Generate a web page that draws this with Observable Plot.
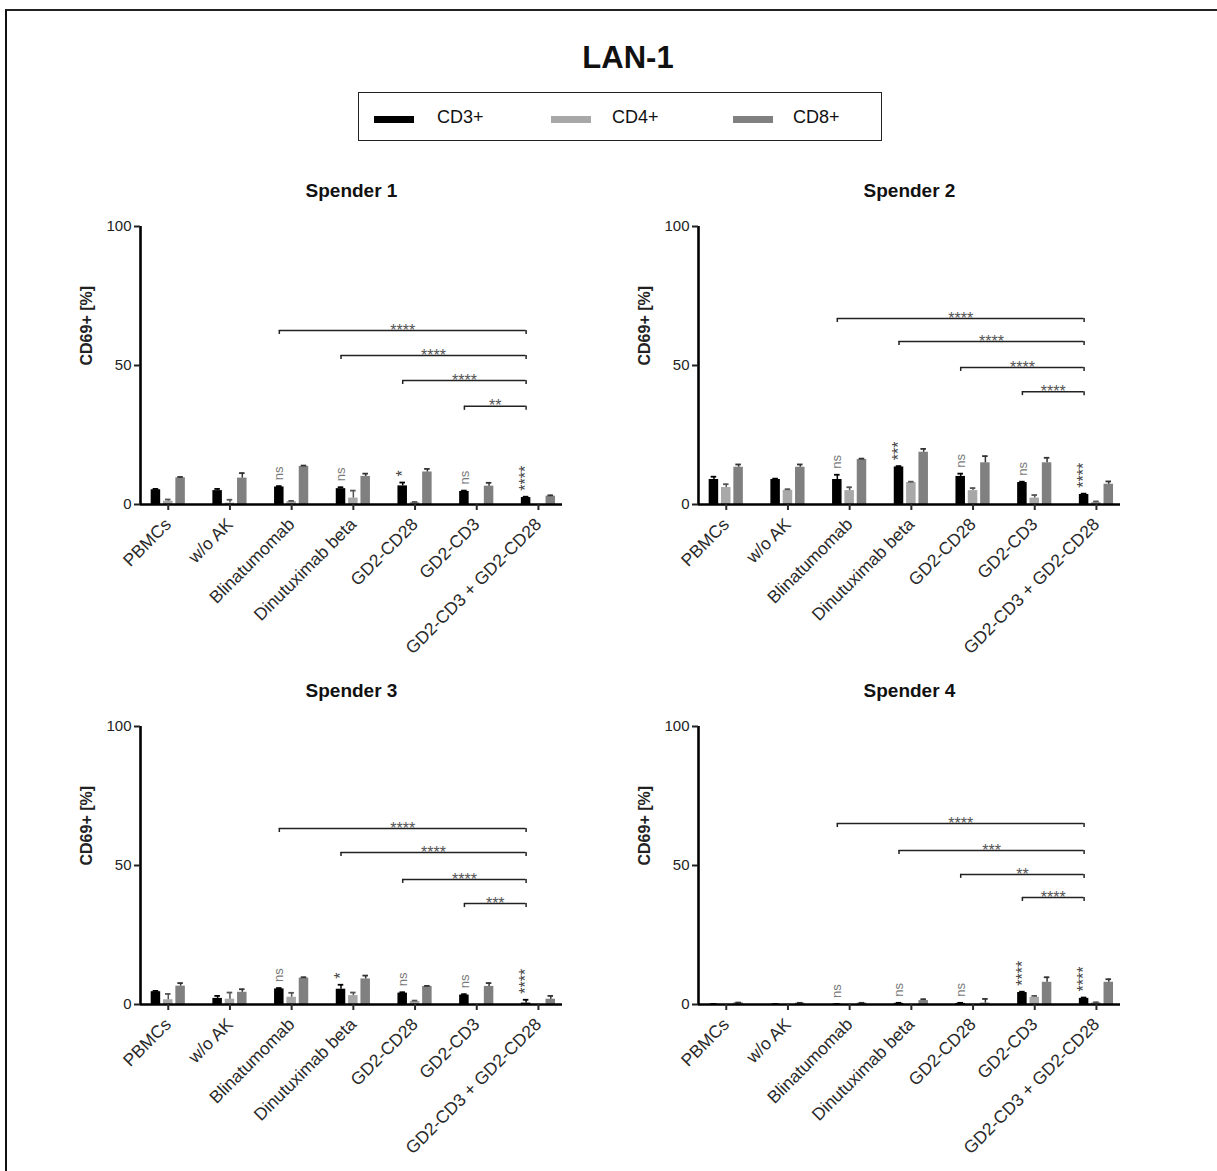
<!DOCTYPE html>
<html>
<head>
<meta charset="utf-8">
<script src="https://cdn.jsdelivr.net/npm/d3@7"></script>
<script src="https://cdn.jsdelivr.net/npm/@observablehq/plot@0.6"></script>
<style>
  body { margin: 0; background: #fff; }
  #page { position: relative; width: 1217px; height: 1171px; overflow: hidden; background: #fff;
          font-family: "Liberation Sans", Arial, sans-serif; color: #111; }
  #frame { position: absolute; left: 5px; top: 9px; right: -10px; bottom: -10px;
           border-left: 2px solid #111; border-top: 2px solid #222; }
  #title { position: absolute; left: 0; width: 1256px; top: 40px; text-align: center;
           font-size: 31px; font-weight: bold; }
  #legend { position: absolute; left: 358px; top: 92px; width: 522px; height: 47px;
            border: 1.5px solid #222; }
  .sw { position: absolute; top: 23px; height: 7px; width: 40px; }
  .lt { position: absolute; top: 13px; font-size: 18px; line-height: 22px; }
  .panel { position: absolute; }
</style>
</head>
<body>
<div id="page">
  <div id="frame"></div>
  <div id="title">LAN-1</div>
  <div id="legend"></div>
</div>
<script>
// Treatment groups along the x axis
const categories = ["PBMCs", "w/o AK", "Blinatumomab", "Dinutuximab beta", "GD2-CD28", "GD2-CD3", "GD2-CD3 + GD2-CD28"];
const series = ["CD3+", "CD4+", "CD8+"];
const yTicks = [0, 50, 100];

// CD69+ [%] means and SD, per donor and T-cell subset
const spender1CD3 = [5.3, 5.0, 6.3, 5.7, 6.7, 4.7, 2.5];
const spender1CD3Err = [0.3, 0.6, 0.3, 0.5, 1.2, 0.3, 0.3];
const spender1CD4 = [1.2, 0.5, 1.0, 2.3, 0.7, 0.0, 0.0];
const spender1CD4Err = [0.6, 1.2, 0.3, 2.7, 0.2, 0.0, 0.0];
const spender1CD8 = [9.6, 9.5, 13.7, 10.1, 11.7, 6.6, 3.0];
const spender1CD8Err = [0.3, 1.8, 0.3, 1.0, 1.1, 1.2, 0.3];

const spender2CD3 = [9.0, 9.0, 9.0, 13.5, 10.1, 7.9, 3.6];
const spender2CD3Err = [1.0, 0.3, 1.7, 0.3, 1.0, 0.3, 0.3];
const spender2CD4 = [6.1, 5.1, 5.0, 7.9, 5.0, 2.3, 0.7];
const spender2CD4Err = [1.2, 0.4, 1.2, 0.3, 0.9, 1.1, 0.4];
const spender2CD8 = [13.4, 13.4, 16.2, 18.8, 15.0, 15.0, 7.3];
const spender2CD8Err = [1.0, 1.0, 0.3, 1.2, 2.4, 1.8, 1.0];

const spender3CD3 = [4.6, 2.2, 5.6, 5.5, 4.1, 3.4, 0.5];
const spender3CD3Err = [0.3, 0.9, 0.3, 1.6, 0.3, 0.3, 1.2];
const spender3CD4 = [1.7, 1.9, 2.6, 3.2, 1.1, 0.0, 0.0];
const spender3CD4Err = [2.1, 2.4, 1.6, 1.1, 0.3, 0.0, 0.0];
const spender3CD8 = [6.6, 4.4, 9.5, 9.2, 6.5, 6.5, 1.9];
const spender3CD8Err = [1.1, 1.1, 0.3, 1.2, 0.2, 1.2, 1.2];

const spender4CD3 = [0.1, 0.1, 0.1, 0.4, 0.4, 4.3, 2.2];
const spender4CD3Err = [0.1, 0.1, 0.1, 0.2, 0.2, 0.3, 0.3];
const spender4CD4 = [0.0, 0.0, 0.0, 0.0, 0.0, 2.6, 0.6];
const spender4CD4Err = [0.0, 0.0, 0.0, 0.0, 0.0, 0.5, 0.2];
const spender4CD8 = [0.6, 0.5, 0.5, 1.4, 0.5, 8.0, 8.0];
const spender4CD8Err = [0.1, 0.1, 0.1, 0.5, 1.5, 1.8, 1.1];

// Significance of CD3+ versus PBMCs, per group
const spender1Sig = ["", "", "ns", "ns", "*", "ns", "****"];
const spender2Sig = ["", "", "ns", "***", "ns", "ns", "****"];
const spender3Sig = ["", "", "ns", "*", "ns", "ns", "****"];
const spender4Sig = ["", "", "ns", "ns", "ns", "****", "****"];

// Pairwise comparisons against the combination (CD3+)
const bracketStarts = ["Blinatumomab", "Dinutuximab beta", "GD2-CD28", "GD2-CD3"];
const bracketEnd = "GD2-CD3 + GD2-CD28";
const spender1Pairs = ["****", "****", "****", "**"];
const spender2Pairs = ["****", "****", "****", "****"];
const spender3Pairs = ["****", "****", "****", "***"];
const spender4Pairs = ["****", "***", "**", "****"];
// bracket heights in CD69+ [%]
const spender1Levels = [62.6, 53.6, 44.6, 35.3];
const spender2Levels = [66.9, 58.6, 49.3, 40.6];
const spender3Levels = [63.3, 54.7, 45.0, 36.3];
const spender4Levels = [65.1, 55.4, 46.8, 38.5];

const barColors = ["#000000", "#a8a8a8", "#808080"];
const errColors = ["#000000", "#555555", "#333333"];
const font = '"Liberation Sans", Arial, sans-serif';

const donors = [
  {name: "Spender 1", means: [spender1CD3, spender1CD4, spender1CD8], errs: [spender1CD3Err, spender1CD4Err, spender1CD8Err], sig: spender1Sig, pairs: spender1Pairs, levels: spender1Levels},
  {name: "Spender 2", means: [spender2CD3, spender2CD4, spender2CD8], errs: [spender2CD3Err, spender2CD4Err, spender2CD8Err], sig: spender2Sig, pairs: spender2Pairs, levels: spender2Levels},
  {name: "Spender 3", means: [spender3CD3, spender3CD4, spender3CD8], errs: [spender3CD3Err, spender3CD4Err, spender3CD8Err], sig: spender3Sig, pairs: spender3Pairs, levels: spender3Levels},
  {name: "Spender 4", means: [spender4CD3, spender4CD4, spender4CD8], errs: [spender4CD3Err, spender4CD4Err, spender4CD8Err], sig: spender4Sig, pairs: spender4Pairs, levels: spender4Levels}
];

// grouped-bar geometry in x-scale units (one unit per treatment group)
const xDomain = [-0.45, 6.39];
const barStep = 0.2;
const barHalf = 0.077;
const capHalf = 0.045;
const panelLeft = [0, 558, 0, 558];
const panelTop = [160, 160, 660, 660];

// legend
const legend = document.getElementById("legend");
const swX = [15, 192, 374];
const txX = [78, 253, 434];
series.forEach((s, j) => {
  const sw = document.createElement("div");
  sw.className = "sw"; sw.style.left = swX[j] + "px"; sw.style.background = barColors[j];
  const t = document.createElement("div");
  t.className = "lt"; t.style.left = txX[j] + "px"; t.textContent = s;
  legend.append(sw, t);
});

function panel(d) {
  const rows = [];
  categories.forEach((c, i) => series.forEach((s, j) => {
    rows.push({cat: c, series: s, j, pos: i + (j - 1) * barStep, v: d.means[j][i], err: d.errs[j][i]});
  }));
  const withErr = rows.filter(r => r.err > 0);
  const cd3 = rows.filter(r => r.j === 0);
  const sigRows = cd3.map((r, i) => ({...r, label: d.sig[i]})).filter(r => r.label);
  const cd3Pos = c => categories.indexOf(c) - barStep;
  const brackets = bracketStarts.map((c, k) => ({x1: cd3Pos(c), x2: cd3Pos(bracketEnd), y: d.levels[k], label: d.pairs[k]}));
  const bracketEnds = brackets.flatMap(b => [{x: b.x1, y: b.y}, {x: b.x2, y: b.y}]);

  return Plot.plot({
    width: 600, height: 520,
    marginLeft: 140, marginRight: 38, marginTop: 66, marginBottom: 176,
    style: {fontFamily: font, fontSize: "15px", color: "#1a1a1a", background: "transparent", overflow: "visible"},
    x: {domain: xDomain},
    y: {domain: [0, 100]},
    color: {domain: series, range: barColors},
    marks: [
      Plot.rect(rows, {x1: r => r.pos - barHalf, x2: r => r.pos + barHalf, y1: 0, y2: "v", fill: "series"}),
      Plot.ruleX(withErr, {x: "pos", y1: "v", y2: r => r.v + r.err, stroke: r => errColors[r.j], strokeWidth: 1.5}),
      Plot.ruleY(withErr, {y: r => r.v + r.err, x1: r => r.pos - capHalf, x2: r => r.pos + capHalf, stroke: r => errColors[r.j], strokeWidth: 1.8}),
      // axes
      Plot.ruleY([0], {strokeWidth: 2.6, stroke: "#000"}),
      Plot.ruleX([xDomain[0]], {y1: 0, y2: 100, strokeWidth: 2.6, stroke: "#000"}),
      Plot.axisY({ticks: yTicks, tickSize: 6, tickPadding: 3, strokeWidth: 2, fontSize: 15, label: null, color: "#222"}),
      Plot.axisX({ticks: d3.range(categories.length), tickFormat: i => categories[i], tickRotate: -45, tickSize: 6, tickPadding: 11, strokeWidth: 2, fontSize: 17.5, label: null, color: "#2a2a2a"}),
      // significance versus PBMCs
      Plot.text(sigRows, {x: "pos", y: r => r.v + r.err, text: "label", rotate: -90, textAnchor: "start", dy: -6,
                          fontSize: r => r.label === "ns" ? 13 : 16, fill: r => r.label === "ns" ? "#777" : "#444"}),
      // pairwise brackets
      Plot.ruleY(brackets, {x1: "x1", x2: "x2", y: "y", stroke: "#222", strokeWidth: 1.5}),
      Plot.ruleX(bracketEnds, {x: "x", y1: "y", y2: "y", insetBottom: -4, stroke: "#222", strokeWidth: 1.5}),
      Plot.text(brackets, {x: b => (b.x1 + b.x2) / 2, y: "y", text: "label", fontSize: 16, fill: "#555"}),
      // titles
      Plot.text([d.name], {text: t => t, frameAnchor: "top", dy: -43, fontSize: 19, fontWeight: "bold", fill: "#111"}),
      Plot.text(["CD69+ [%]"], {text: t => t, frameAnchor: "left", dx: -54, rotate: -90, fontSize: 16, fontWeight: "bold", fill: "#222"})
    ]
  });
}

const page = document.getElementById("page");
donors.forEach((d, k) => {
  const svg = panel(d);
  svg.classList.add("panel");
  svg.style.left = panelLeft[k] + "px";
  svg.style.top = panelTop[k] + "px";
  page.append(svg);
});
</script>
</body>
</html>
